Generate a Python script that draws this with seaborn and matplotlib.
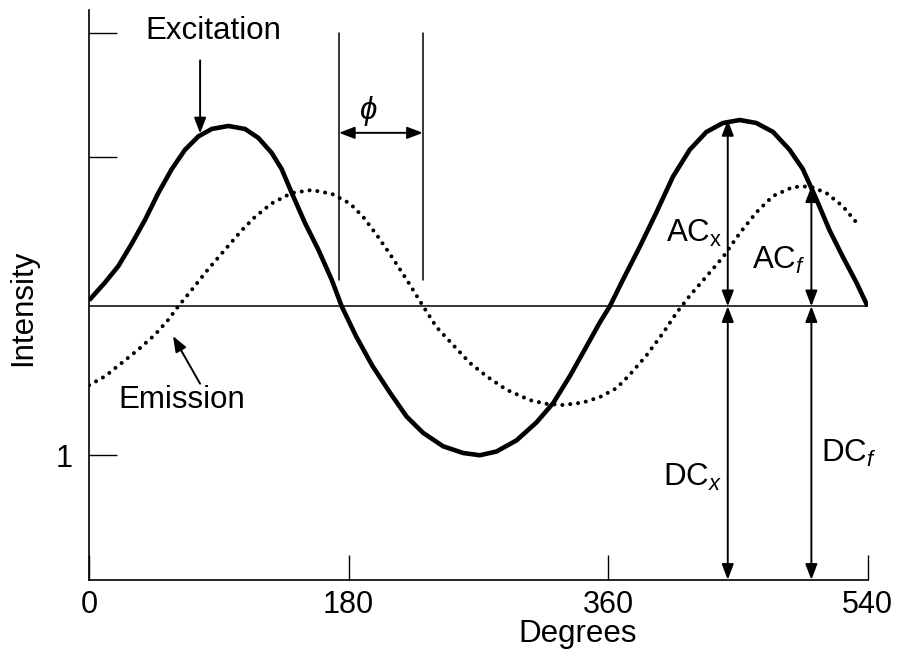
import pandas as pd
import matplotlib
matplotlib.use("Agg")
import matplotlib.pyplot as plt
import seaborn as sns

# valeurs (degrés, intensité en unités arbitraires)
exc_deg = [0, 11.1, 20.3, 29.6, 38.8, 48.0, 57.3, 66.5, 75.8, 85.1, 96.6, 108.1,
           117.4, 126.6, 133.6, 140.6, 149.7, 159.0, 168.2, 175.2, 185.1, 196.5,
           208.7, 220.2, 231.7, 245.6, 259.5, 271.0, 282.6, 296.5, 310.3, 321.9,
           333.4, 345.0, 354.2, 361.2, 370.4, 382.0, 393.5, 405.0, 416.6, 428.2,
           439.7, 451.3, 462.8, 474.4, 485.9, 495.1, 504.4, 513.6, 522.9, 532.2,
           540]
exc_val = [2.04, 2.16, 2.27, 2.42, 2.58, 2.76, 2.92, 3.05, 3.14, 3.19, 3.21, 3.19,
           3.13, 3.03, 2.92, 2.76, 2.56, 2.38, 2.18, 2.00, 1.80, 1.60,
           1.42, 1.26, 1.15, 1.06, 1.015, 1.00, 1.025, 1.10, 1.22, 1.35,
           1.53, 1.73, 1.89, 2.00, 2.18, 2.40, 2.63, 2.87, 3.05, 3.17,
           3.23, 3.25, 3.23, 3.17, 3.05, 2.92, 2.72, 2.51, 2.33, 2.16,
           2.00]

emi_deg = [0, 11.1, 22.7, 34.2, 45.8, 55.0, 61.9, 71.2, 82.7, 94.3, 105.9, 115.1,
           126.6, 140.5, 154.4, 168.2, 180.9, 190.1, 199.4, 208.7, 220.2, 231.7,
           241.0, 252.5, 264.1, 275.7, 289.5, 305.7, 317.3, 328.8, 342.6, 354.2,
           365.8, 375.0, 386.6, 398.1, 407.4, 416.6, 428.2, 439.7, 451.3, 462.8,
           474.4, 488.2, 499.8, 511.4, 522.9, 533.3]
emi_val = [1.47, 1.53, 1.62, 1.71, 1.81, 1.91, 2.00, 2.11, 2.25, 2.38, 2.51, 2.60,
           2.69, 2.76, 2.78, 2.755, 2.69, 2.60, 2.48, 2.35, 2.18, 2.00,
           1.86, 1.74, 1.62, 1.53, 1.44, 1.37, 1.345, 1.337, 1.354, 1.39,
           1.45, 1.54, 1.67, 1.82, 1.955, 2.07, 2.20, 2.33, 2.49, 2.63,
           2.74, 2.80, 2.805, 2.76, 2.67, 2.55]

x_ticks = [0, 180, 360, 540]
y_ticks = [1, 3, 3.836]
y_ticklabels = ["1", "", ""]
baseline = 2.0
y_bottom, y_top = 0.164, 3.99
phi_lines = [173.3, 231.5]
ac_x, ac_f = 443, 501

df = pd.concat([
    pd.DataFrame({"deg": exc_deg, "val": exc_val, "signal": "Excitation"}),
    pd.DataFrame({"deg": emi_deg, "val": emi_val, "signal": "Emission"}),
])

sns.set_theme(style="ticks")
plt.rcParams["font.family"] = ["Liberation Sans", "DejaVu Sans"]
plt.rcParams["mathtext.fontset"] = "custom"
plt.rcParams["mathtext.rm"] = "Liberation Sans"
plt.rcParams["mathtext.it"] = "Liberation Sans:italic"
for k in ["text.color", "axes.labelcolor", "xtick.color", "ytick.color", "axes.edgecolor"]:
    plt.rcParams[k] = "black"

fig, ax = plt.subplots(figsize=(9, 6.5), dpi=100)
fig.subplots_adjust(left=0.099, right=0.964, bottom=0.108, top=0.985)

sns.lineplot(ax=ax, data=df[df.signal == "Excitation"], x="deg", y="val",
             color="black", lw=3.3, estimator=None, sort=False,
             solid_joinstyle="round", solid_capstyle="butt")
sns.lineplot(ax=ax, data=df[df.signal == "Emission"], x="deg", y="val",
             color="black", lw=2.9, estimator=None, sort=False,
             linestyle=(0, (0.01, 1.95)), dash_capstyle="round")

ax.set_xlim(0, 540)
ax.set_ylim(y_bottom, y_top)
ax.axhline(baseline, color="black", lw=1.1)

sns.despine(ax=ax)
for s in ["left", "bottom"]:
    ax.spines[s].set_linewidth(1.2)

ax.set_xticks(x_ticks)
ax.set_xticklabels([str(t) for t in x_ticks])
ax.set_yticks(y_ticks)
ax.set_yticklabels(y_ticklabels)
ax.tick_params(axis="x", direction="in", length=18, width=1, labelsize=22, pad=7)
ax.tick_params(axis="y", direction="in", length=20, width=1, labelsize=22, pad=12)

ax.set_xlabel("Degrees", fontsize=22.5)
ax.xaxis.set_label_coords(0.628, -0.068)
ax.set_ylabel("Intensity", fontsize=22.5)
ax.yaxis.set_label_coords(-0.066, 0.477)

fs = 22.5
arrow = dict(arrowstyle="<|-|>,head_length=0.47,head_width=0.18", color="black",
             lw=1.4, shrinkA=0, shrinkB=0, mutation_scale=20)
one = dict(arrowstyle="-|>,head_length=0.47,head_width=0.18", color="black",
           lw=1.4, shrinkA=0, shrinkB=0, mutation_scale=20)

# Excitation / Emission
ax.text(86, 3.85, "Excitation", fontsize=fs, ha="center", va="center")
ax.annotate("", xy=(77, 3.16), xytext=(77, 3.65), arrowprops=one)
ax.text(64.5, 1.37, "Emission", fontsize=fs, ha="center", va="center")
ax.annotate("", xy=(58.2, 1.80), xytext=(77, 1.48), arrowprops=one)

# déphasage
for xv in phi_lines:
    ax.plot([xv, xv], [2.178, 3.836], color="black", lw=1.1)
ax.annotate("", xy=(phi_lines[0], 3.164), xytext=(phi_lines[1], 3.164), arrowprops=arrow)
ax.text(193.4, 3.31, r"$\phi$", fontsize=fs, ha="center", va="center")

# modulation AC / DC
ax.annotate("", xy=(ac_x, max(exc_val)), xytext=(ac_x, baseline), arrowprops=arrow)
ax.annotate("", xy=(ac_f, max(emi_val)), xytext=(ac_f, baseline), arrowprops=arrow)
ax.annotate("", xy=(ac_x, baseline), xytext=(ac_x, y_bottom), arrowprops=arrow)
ax.annotate("", xy=(ac_f, baseline), xytext=(ac_f, y_bottom), arrowprops=arrow)

ax.text(439.5, 2.49, r"AC$_{\mathrm{x}}$", fontsize=fs, ha="right", va="center")
ax.text(459.6, 2.31, r"AC$_{f}$", fontsize=fs, ha="left", va="center")
ax.text(438.8, 0.85, r"DC$_{x}$", fontsize=fs, ha="right", va="center")
ax.text(507.4, 1.01, r"DC$_{f}$", fontsize=fs, ha="left", va="center")

plt.savefig("out.png", dpi=100)
